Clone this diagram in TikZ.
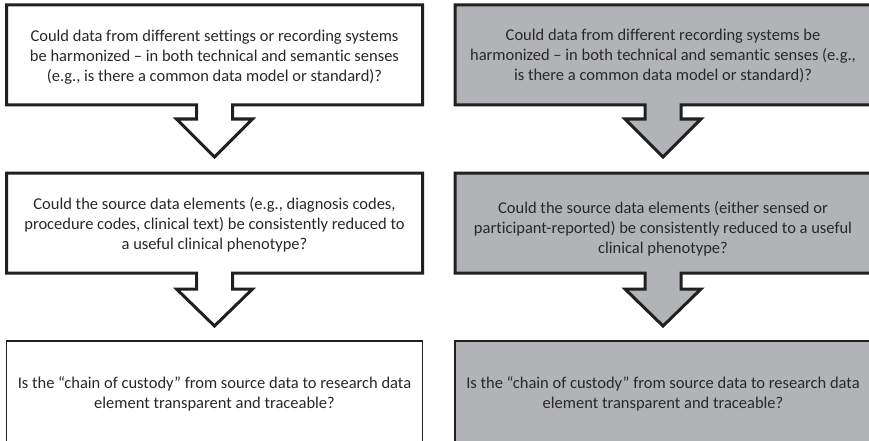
\documentclass[tikz,border=0pt]{standalone}
\usepackage{fontspec}
\setmainfont{Carlito}[Ligatures=NoCommon]
\definecolor{boxgray}{RGB}{178,179,183}
\definecolor{edgecol}{RGB}{32,32,32}
\definecolor{txtcol}{RGB}{40,40,40}
\tikzset{
  qbox/.style={rectangle, inner sep=0pt, outer sep=0pt, minimum width=416pt},
  qtext/.style={inner sep=0pt, text=txtcol, align=center,
    font=\fontsize{16.5}{20}\selectfont},
  callout/.style={draw=edgecol, line width=3pt, line join=miter, miter limit=10},
  plainbox/.style={draw=edgecol, line width=1.3pt},
}
\newcommand\arrowcallout[4]{% #1 node, #2 shaft length, #3 head length, #4 fill
  \draw[callout, fill=#4] (#1.north west) -- (#1.north east) -- (#1.south east)
    -- ([xshift=18pt]#1.south) -- ++(0,#2) -- ++(20,0) -- ++(-38,#3) -- ++(-38,-#3)
    -- ++(20,0) -- ++(0,-#2) -- (#1.south west) -- cycle;}
\begin{document}
\begin{tikzpicture}[x=1pt,y=-1pt]
\useasboundingbox (0,0) rectangle (869,441);
\clip (0,0) rectangle (869,441);
\fill[white] (0,0) rectangle (869,441);

% box outlines
\node[qbox, minimum height=100pt] (l1) at (214.5,55) {};
\node[qbox, minimum height=100pt] (l2) at (214.5,223) {};
\node[qbox, minimum height=105pt, plainbox, fill=white] (l3) at (214.5,393.5) {};
\node[qbox, minimum height=100pt] (r1) at (663,55) {};
\node[qbox, minimum height=100pt] (r2) at (663,223) {};
\node[qbox, minimum height=105pt, plainbox, fill=boxgray] (r3) at (663,393.5) {};

\arrowcallout{l1}{14}{38}{white}
\arrowcallout{l2}{16}{37}{white}
\arrowcallout{r1}{14}{38}{boxgray}
\arrowcallout{r2}{16}{37}{boxgray}

% texts
\node[qtext] (l1t) at ([yshift=-2pt]l1.center)
  {Could data from different settings or recording systems\\
   be harmonized – in both technical and semantic senses\\
   (e.g., is there a common data model or standard)?};
\node[qtext] (l2t) at ([yshift=-2pt]l2.center)
  {Could the source data elements (e.g., diagnosis codes,\\
   procedure codes, clinical text) be consistently reduced to\\
   a useful clinical phenotype?};
\node[qtext] (l3t) at (l3.center)
  {Is the “chain of custody” from source data to research data\\
   element transparent and traceable?};
\node[qtext] (r1t) at ([yshift=-1pt]r1.center)
  {Could data from different recording systems be\\
   harmonized – in both technical and semantic senses (e.g.,\\
   is there a common data model or standard)?};
\node[qtext] (r2t) at ([yshift=-6pt]r2.center)
  {Could the source data elements (either sensed or\\
   participant-reported) be consistently reduced to a useful\\
   clinical phenotype?};
\node[qtext] (r3t) at (r3.center)
  {Is the “chain of custody” from source data to research data\\
   element transparent and traceable?};
\end{tikzpicture}
\end{document}
